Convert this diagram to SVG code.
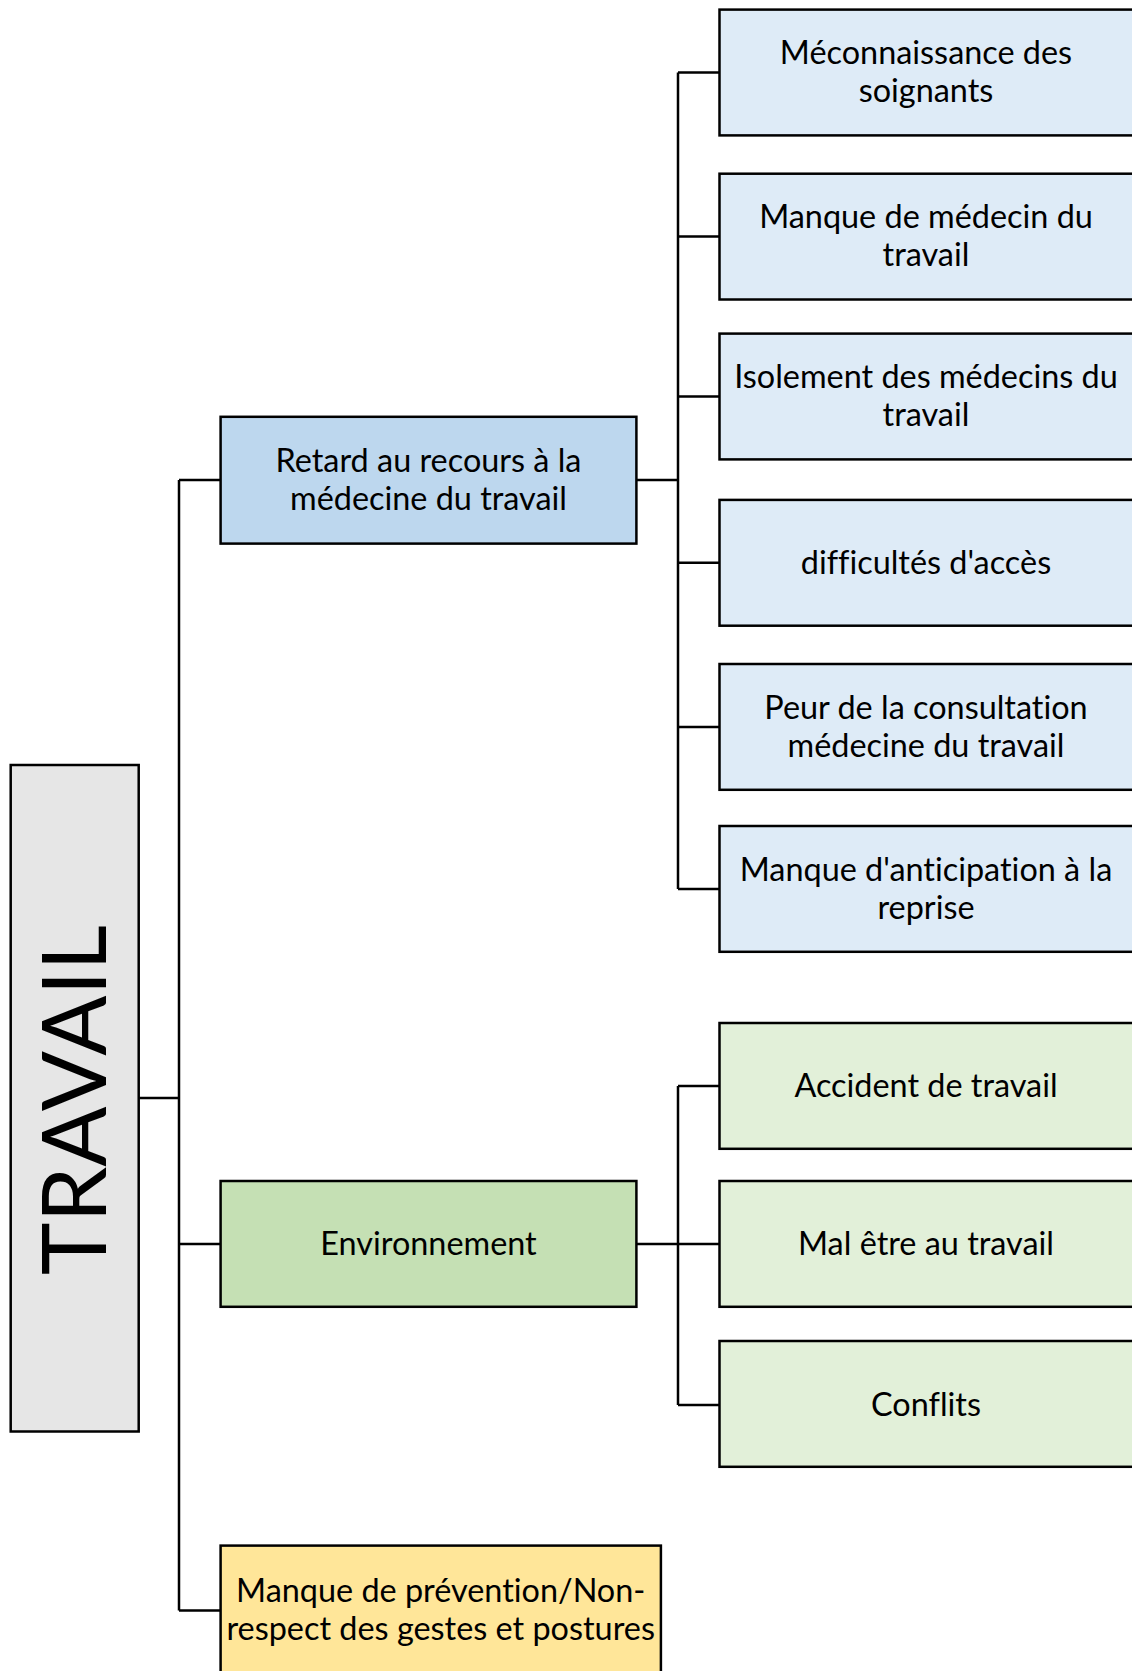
<svg xmlns="http://www.w3.org/2000/svg" width="1132" height="1671" viewBox="0 0 1132 1671">
<style>
.box{stroke:#000;stroke-width:2.5}
.t{font-family:Lato,"Open Sans","DejaVu Sans",sans-serif;font-size:32.4px;fill:#000;text-anchor:middle;font-variant-ligatures:none}
.big{font-family:Lato,"Open Sans","DejaVu Sans",sans-serif;font-size:89px;fill:#000;text-anchor:middle}
.c{fill:none;stroke:#000;stroke-width:2.5}
.lb{fill:#DEEBF7}.mb{fill:#BDD7EE}.lg{fill:#E2F0D9}.mg{fill:#C5E0B4}.y{fill:#FFE699}.g{fill:#E6E6E6}
</style>
<rect width="1132" height="1671" fill="#fff"/>
<g id="connectors">
<path class="c" d="M138.6 1098H179M179 480V1610.6M179 480H220.6M179 1244H220.6M179 1610.6H220.6"/>
<path class="c" d="M636.4 480H678M678 72.5V889M678 72.5H719.5M678 236.6H719.5M678 396.5H719.5M678 562.8H719.5M678 727H719.5M678 889H719.5"/>
<path class="c" d="M636.4 1244H719.5M678 1086V1405M678 1086H719.5M678 1405H719.5"/>
</g>
<g id="travail"><rect class="box g" x="10.7" y="765" width="128" height="666.5"/><text class="big" transform="translate(106 1100) rotate(-90)">TRAVAIL</text></g>
<g id="retard"><rect class="box mb" x="220.6" y="416.8" width="415.8" height="126.8"/><text class="t" x="428.5" y="471.5">Retard au recours à la</text><text class="t" x="428.5" y="509.5">médecine du travail</text></g>
<g id="environnement"><rect class="box mg" x="220.6" y="1181" width="415.8" height="125.8"/><text class="t" x="428.5" y="1255">Environnement</text></g>
<g id="prevention"><rect class="box y" x="220.6" y="1545.6" width="440.3" height="130"/><text class="t" x="440.7" y="1602">Manque de prévention/Non-</text><text class="t" x="440.7" y="1640">respect des gestes et postures</text></g>
<g id="n1"><rect class="box lb" x="719.5" y="9.6" width="420" height="125.8"/><text class="t" x="926" y="64">Méconnaissance des</text><text class="t" x="926" y="102">soignants</text></g>
<g id="n2"><rect class="box lb" x="719.5" y="173.7" width="420" height="125.8"/><text class="t" x="926" y="228">Manque de médecin du</text><text class="t" x="926" y="266">travail</text></g>
<g id="n3"><rect class="box lb" x="719.5" y="333.6" width="420" height="125.8"/><text class="t" x="926" y="388">Isolement des médecins du</text><text class="t" x="926" y="426">travail</text></g>
<g id="n4"><rect class="box lb" x="719.5" y="499.9" width="420" height="125.8"/><text class="t" x="926" y="573.5">difficultés d'accès</text></g>
<g id="n5"><rect class="box lb" x="719.5" y="664" width="420" height="125.8"/><text class="t" x="926" y="718.5">Peur de la consultation</text><text class="t" x="926" y="756.5">médecine du travail</text></g>
<g id="n6"><rect class="box lb" x="719.5" y="826" width="420" height="125.8"/><text class="t" x="926" y="880.5">Manque d'anticipation à la</text><text class="t" x="926" y="918.5">reprise</text></g>
<g id="n7"><rect class="box lg" x="719.5" y="1023" width="420" height="125.8"/><text class="t" x="926" y="1097">Accident de travail</text></g>
<g id="n8"><rect class="box lg" x="719.5" y="1181" width="420" height="125.8"/><text class="t" x="926" y="1255">Mal être au travail</text></g>
<g id="n9"><rect class="box lg" x="719.5" y="1341" width="420" height="125.8"/><text class="t" x="926" y="1415.5">Conflits</text></g>
</svg>
